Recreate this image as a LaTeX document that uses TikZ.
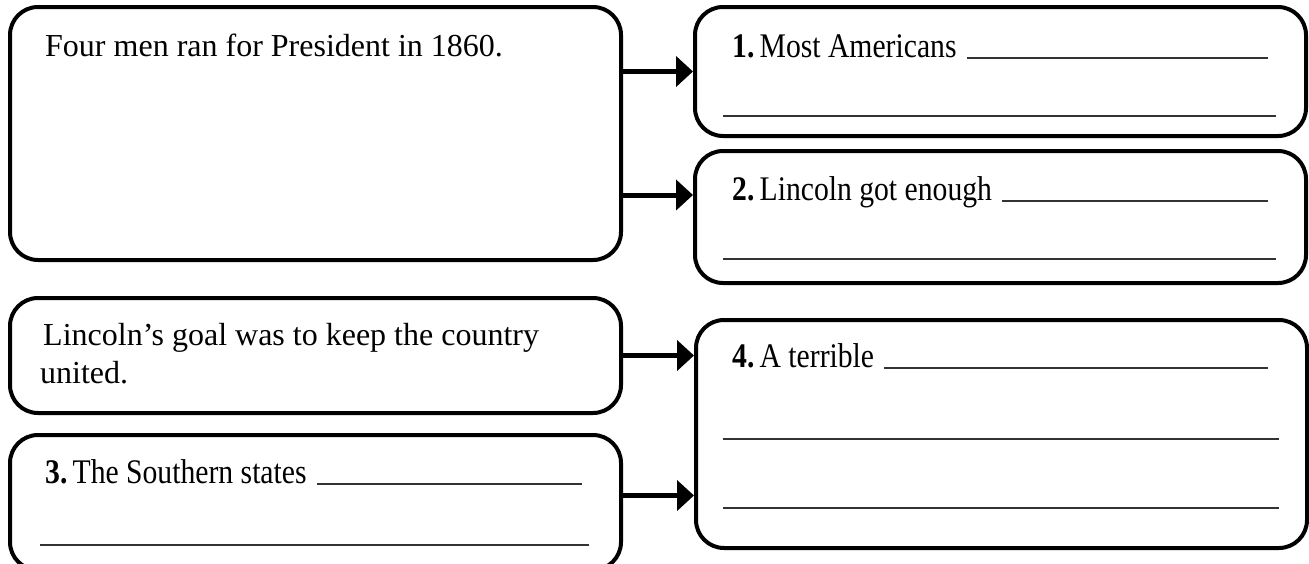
\documentclass[tikz,border=0pt]{standalone}
\usepackage{fontspec}
\setmainfont{Liberation Serif}
\newfontfamily\narrowfont{Liberation Serif}[FakeStretch=0.86]
\usetikzlibrary{arrows.meta}

\begin{document}
\begin{tikzpicture}[x=1pt,y=-1pt]
% Define the node styles
\tikzstyle{box} = [draw, rectangle, rounded corners=28pt, line width=4pt, minimum width=611pt, inner sep=0pt]
\tikzstyle{fact} = [inner sep=0pt, anchor=base west, font=\fontsize{32}{38}\selectfont]
\tikzstyle{ask} = [inner sep=0pt, anchor=base west, font=\narrowfont\fontsize{34.5}{40}\selectfont]
\tikzstyle{blank} = [line width=1.8pt, black!80]
\tikzstyle{link} = [-{Triangle[length=17pt,width=30pt]}, line width=5pt]

\useasboundingbox (0,0) rectangle (1309,563);

% Define the boxes
\node[box, minimum height=253pt] (A) at (315.5,133.5) {};
\node[box, minimum height=115pt] (B) at (315.5,355.5) {};
\node[box, minimum height=135pt] (b3) at (315.5,502.5) {};
\node[box, minimum height=129pt] (b1) at (1000.5,71.5) {};
\node[box, minimum height=132pt] (b2) at (1000.5,217) {};
\node[box, minimum height=228pt] (b4) at (1001.5,434) {};

% Define the texts
\node[fact] (tA) at (45,56) {Four men ran for President in 1860.};
\node[fact] (tB) at (43,345) {Lincoln’s goal was to keep the country};
\node[fact] (tB2) at (40,383) {united.};
\node[ask] (t1) at (732,57) {\textbf{1.}\hspace{0.15em}Most Americans};
\node[ask] (t2) at (732,200) {\textbf{2.}\hspace{0.15em}Lincoln got enough};
\node[ask] (t3) at (45,483) {\textbf{3.}\hspace{0.15em}The Southern states};
\node[ask] (t4) at (732,367) {\textbf{4.}\hspace{0.15em}A terrible};

% Add the blank lines
\draw[blank] ([xshift=10pt,yshift=-1pt]t1.base east) -- ([xshift=-40pt,yshift=-1pt]b1.east |- t1.base);
\draw[blank] ([xshift=30pt,yshift=22pt]b1.south west) -- ([xshift=-32pt,yshift=22pt]b1.south east);
\draw[blank] ([xshift=10pt,yshift=-1pt]t2.base east) -- ([xshift=-40pt,yshift=-1pt]b2.east |- t2.base);
\draw[blank] ([xshift=30pt,yshift=26pt]b2.south west) -- ([xshift=-32pt,yshift=26pt]b2.south east);
\draw[blank] ([xshift=10pt,yshift=-1pt]t3.base east) -- ([xshift=-41pt,yshift=-1pt]b3.east |- t3.base);
\draw[blank] ([xshift=32pt,yshift=27pt]b3.south west) -- ([xshift=-34pt,yshift=27pt]b3.south east);
\draw[blank] ([xshift=10pt,yshift=-1pt]t4.base east) -- ([xshift=-41pt,yshift=-1pt]b4.east |- t4.base);
\draw[blank] ([xshift=29pt,yshift=111pt]b4.south west) -- ([xshift=-30pt,yshift=111pt]b4.south east);
\draw[blank] ([xshift=29pt,yshift=42pt]b4.south west) -- ([xshift=-30pt,yshift=42pt]b4.south east);

% Define the arrows
\coordinate (a2) at ([yshift=22pt]b2.west);
\coordinate (a3) at ([yshift=7pt]b3.east);
\draw[link] (A.east |- b1.west) -- (b1.west);
\draw[link] (A.east |- a2) -- (a2);
\draw[link] (B.east) -- (B.east -| b4.west);
\draw[link] (a3) -- (a3 -| b4.west);

\end{tikzpicture}
\end{document}
